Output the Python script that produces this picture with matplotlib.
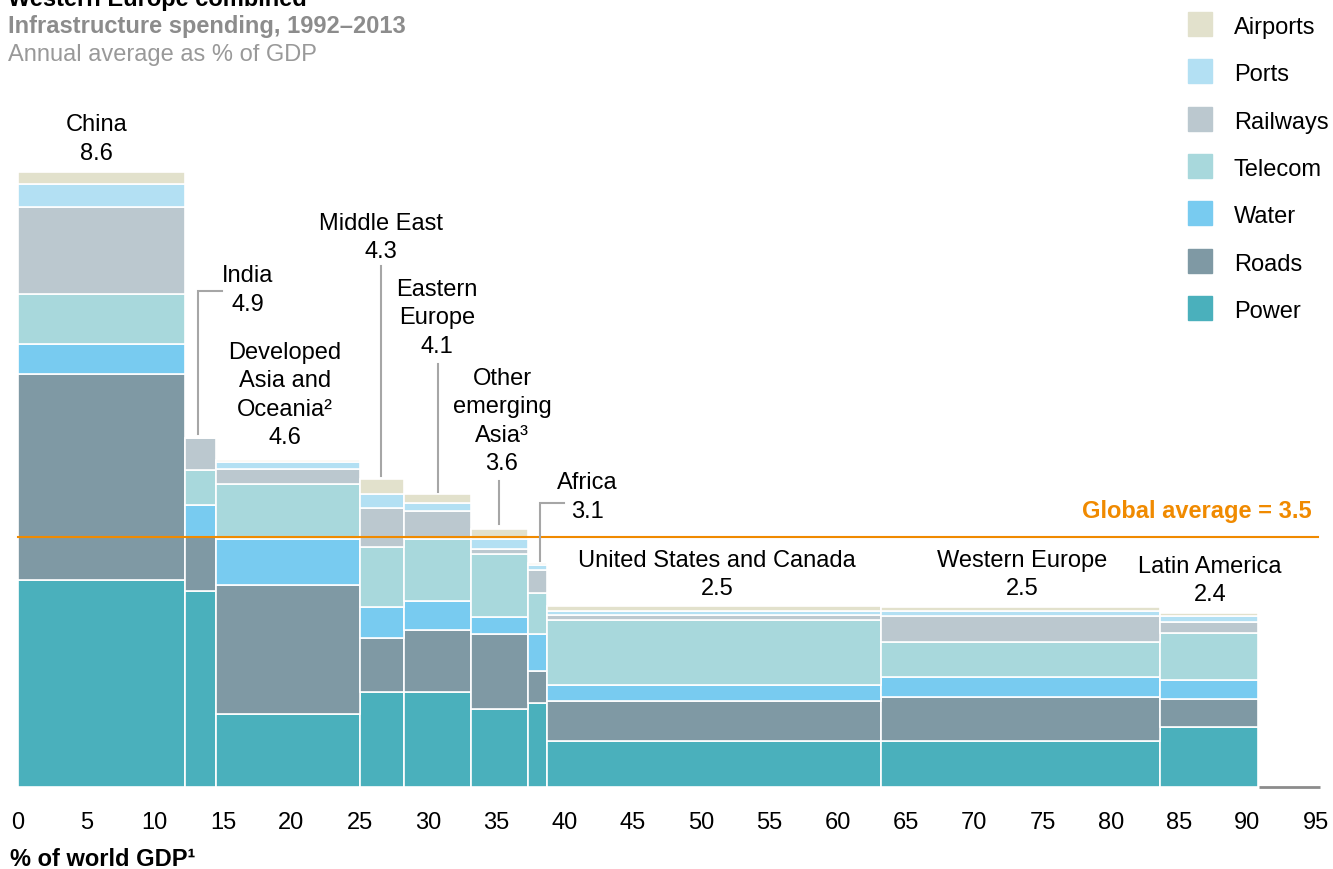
import matplotlib
matplotlib.use("Agg")
import numpy as np
import matplotlib.pyplot as plt
from matplotlib.patches import Rectangle

plt.rcParams["font.family"] = ["Liberation Sans", "DejaVu Sans"]

# data
regions = ["China", "India", "Developed\nAsia and\nOceania²", "Middle East",
           "Eastern\nEurope", "Other\nemerging\nAsia³", "Africa",
           "United States and Canada", "Western Europe", "Latin America"]
totals = ["8.6", "4.9", "4.6", "4.3", "4.1", "3.6", "3.1", "2.5", "2.5", "2.4"]
gdp_share = [12.2, 2.3, 10.5, 3.26, 4.9, 4.18, 1.42, 24.45, 20.4, 7.18]
rest_share = 4.5

sectors = ["Power", "Roads", "Water", "Telecom", "Railways", "Ports", "Airports"]
power = [2.90, 2.74, 1.02, 1.33, 1.33, 1.09, 1.18, 0.65, 0.64, 0.84]
roads = [2.88, 0.76, 1.81, 0.76, 0.87, 1.05, 0.44, 0.56, 0.62, 0.39]
water = [0.43, 0.45, 0.65, 0.43, 0.40, 0.24, 0.52, 0.22, 0.28, 0.27]
telecom = [0.69, 0.49, 0.76, 0.84, 0.87, 0.88, 0.58, 0.91, 0.49, 0.66]
railways = [1.22, 0.45, 0.22, 0.55, 0.40, 0.07, 0.32, 0.07, 0.36, 0.15]
ports = [0.32, 0.00, 0.09, 0.20, 0.11, 0.14, 0.07, 0.06, 0.07, 0.09]
airports = [0.17, 0.00, 0.035, 0.21, 0.13, 0.15, 0.03, 0.07, 0.06, 0.04]
global_avg = 3.5

colors = {"Power": "#4AB0BC", "Roads": "#7F99A4", "Water": "#78CBF0",
          "Telecom": "#A8D8DC", "Railways": "#BBC8CF", "Ports": "#B3E0F3",
          "Airports": "#E2E1CC"}
orange = "#F08A00"
leader_grey = "#A6A6A6"

# label placement (data coords) and leader lines
label_xy = [(5.75, 9.08), (16.84, 6.97), (19.55, 5.5), (26.57, 7.70),
            (30.67, 6.58), (35.43, 5.13), (41.7, 4.07), (51.17, 2.98),
            (73.5, 2.98), (87.26, 2.9)]
leaders = [
    [(14.94, 6.95), (13.18, 6.95), (13.18, 4.94)],
    [(26.6, 7.29), (26.6, 4.36)],
    [(30.72, 5.92), (30.72, 4.13)],
    [(35.2, 4.29), (35.2, 3.68)],
    [(39.97, 3.98), (38.2, 3.98), (38.2, 3.17)],
]

W, H = 1333, 870
fig = plt.figure(figsize=(W / 100, H / 100), dpi=100)
ax = fig.add_axes([18 / W, 82 / H, 1297.7 / W, 688 / H])
ax.set_xlim(0, 95)
ax.set_ylim(0, 688 / 71.4)

lefts = np.concatenate([[0], np.cumsum(gdp_share)[:-1]])
bottom = np.zeros(len(regions))
series = {"Power": power, "Roads": roads, "Water": water, "Telecom": telecom,
          "Railways": railways, "Ports": ports, "Airports": airports}
for s in sectors:
    vals = np.array(series[s])
    ax.bar(lefts, vals, width=gdp_share, bottom=bottom, align="edge",
           color=colors[s], edgecolor="white", linewidth=1.2)
    bottom += vals

rest_left = sum(gdp_share)
ax.hlines(0, rest_left + 0.05, rest_left + rest_share, color="#8C8C8C", lw=2, clip_on=False)

ax.axhline(global_avg, xmin=0, xmax=95.2 / 95, color=orange, lw=1.5, clip_on=False)
ax.text(94.7, 3.87, "Global average = 3.5", color=orange, fontsize=17,
        fontweight="bold", ha="right", va="center")

for name, tot, (x, y) in zip(regions, totals, label_xy):
    ax.text(x, y, f"{name}\n{tot}", ha="center", va="center", fontsize=17,
            linespacing=1.38, clip_on=False)

for pts in leaders:
    xs, ys = zip(*pts)
    ax.plot(xs, ys, color=leader_grey, lw=1.5, solid_joinstyle="miter")

ax.set_xticks(range(0, 96, 5))
ax.tick_params(axis="x", length=0, pad=17, labelsize=17)
ax.set_yticks([])
for sp in ax.spines.values():
    sp.set_visible(False)

# titles
fig.text(8 / W, 1 - 6 / H, "Western Europe combined", fontsize=17,
         fontweight="bold", va="baseline")
fig.text(8 / W, 1 - 33 / H, "Infrastructure spending, 1992–2013", fontsize=17,
         fontweight="bold", color="#8C8C8C", va="baseline")
fig.text(8 / W, 1 - 61 / H, "Annual average as % of GDP", fontsize=17,
         color="#999999", va="baseline")
fig.text(10 / W, 1 - 866 / H, "% of world GDP¹", fontsize=17,
         fontweight="bold", va="baseline")

# legend
for i, s in enumerate(["Airports", "Ports", "Railways", "Telecom", "Water", "Roads", "Power"]):
    top = 12.7 + 47.4 * i
    fig.add_artist(Rectangle((1188 / W, 1 - (top + 24) / H), 24 / W, 24 / H,
                             transform=fig.transFigure, color=colors[s]))
    fig.text(1234 / W, 1 - (top + 15) / H, s, fontsize=17, va="center")

fig.savefig("out.png", dpi=100)
